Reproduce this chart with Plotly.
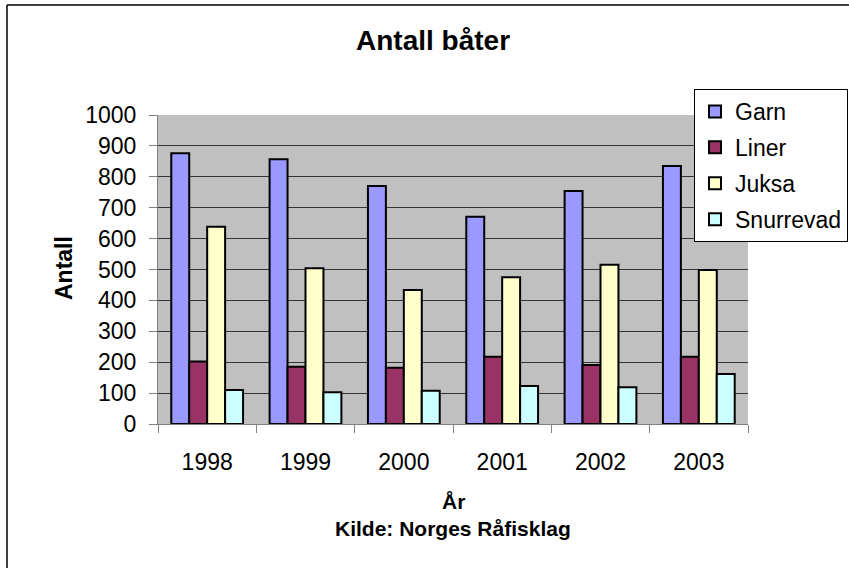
import plotly.graph_objects as go

years = ["1998", "1999", "2000", "2001", "2002", "2003"]
garn = [876, 857, 770, 671, 754, 835]
liner = [202, 185, 182, 218, 191, 218]
juksa = [638, 504, 434, 475, 515, 498]
snurrevad = [110, 103, 108, 123, 119, 162]

series = [
    ("Garn", garn, "#9999FF"),
    ("Liner", liner, "#993366"),
    ("Juksa", juksa, "#FFFFCC"),
    ("Snurrevad", snurrevad, "#CCFFFF"),
]

FONT = "Liberation Sans, Arial, sans-serif"

fig = go.Figure()
for name, vals, col in series:
    fig.add_trace(go.Bar(
        x=years, y=vals, name=name, legendgroup=name,
        marker=dict(color=col, line=dict(color="black", width=2)),
    ))

W, H = 849, 568
# plot area in page pixels: x 158..748, y 115..424
L, T = 158, 115
R = W - 748
B = H - 424
pw, ph = W - L - R, H - T - B

def px(x):
    return (x - L) / pw

def py(y):
    return (H - B - y) / ph

fig.update_layout(
    width=W, height=H,
    margin=dict(l=L, r=R, t=T, b=B, autoexpand=False),
    paper_bgcolor="white",
    plot_bgcolor="#C0C0C0",
    font=dict(family=FONT, size=23, color="black"),
    barmode="group",
    bargap=0.27,
    bargroupgap=0,
    showlegend=True,
    legend=dict(
        x=px(848), y=py(89), xanchor="right", yanchor="top",
        bgcolor="white", bordercolor="black", borderwidth=1,
        font=dict(family=FONT, size=23, color="black"),
        tracegroupgap=3,
        itemsizing="constant",
    ),
    xaxis=dict(
        type="category",
        tickson="boundaries",
        ticks="outside", ticklen=8, tickcolor="#808080", tickwidth=1,
        showline=True, linecolor="#808080", linewidth=1,
        showgrid=False,
        ticklabelstandoff=17,
        tickfont=dict(family=FONT, size=23, color="black"),
    ),
    yaxis=dict(
        range=[0, 1000], dtick=100, tick0=0,
        ticks="outside", ticklen=8, tickcolor="#808080", tickwidth=1,
        showline=True, linecolor="#808080", linewidth=1,
        showgrid=True, gridcolor="#333333", gridwidth=1,
        zeroline=False,
        ticklabelstandoff=8,
        tickfont=dict(family=FONT, size=23, color="black"),
    ),
    annotations=[
        dict(text="<b>Antall båter</b>", x=px(432.5), y=py(41), xref="paper", yref="paper",
             xanchor="center", yanchor="middle", showarrow=False,
             font=dict(family=FONT, size=28, color="black")),
        dict(text="<b>Antall</b>", x=px(64), y=py(268), xref="paper", yref="paper",
             xanchor="center", yanchor="middle", showarrow=False, textangle=-90,
             font=dict(family=FONT, size=23, color="black")),
        dict(text="<b>År</b>", x=px(453), y=py(501), xref="paper", yref="paper",
             xanchor="center", yanchor="middle", showarrow=False,
             font=dict(family=FONT, size=21, color="black")),
        dict(text="<b>Kilde: Norges Råfisklag</b>", x=px(453), y=py(528), xref="paper", yref="paper",
             xanchor="center", yanchor="middle", showarrow=False,
             font=dict(family=FONT, size=21, color="black")),
    ],
    shapes=[
        dict(type="line", xref="paper", yref="paper", x0=px(7), x1=px(7), y0=py(5), y1=py(600),
             line=dict(color="black", width=1.5)),
        dict(type="line", xref="paper", yref="paper", x0=px(7), x1=px(900), y0=py(5), y1=py(5),
             line=dict(color="black", width=1.5)),
    ],
)

fig.write_html(
    "out.html",
    config={"displayModeBar": False},
    post_script="document.body.style.margin='0';document.body.style.overflow='hidden';",
)
